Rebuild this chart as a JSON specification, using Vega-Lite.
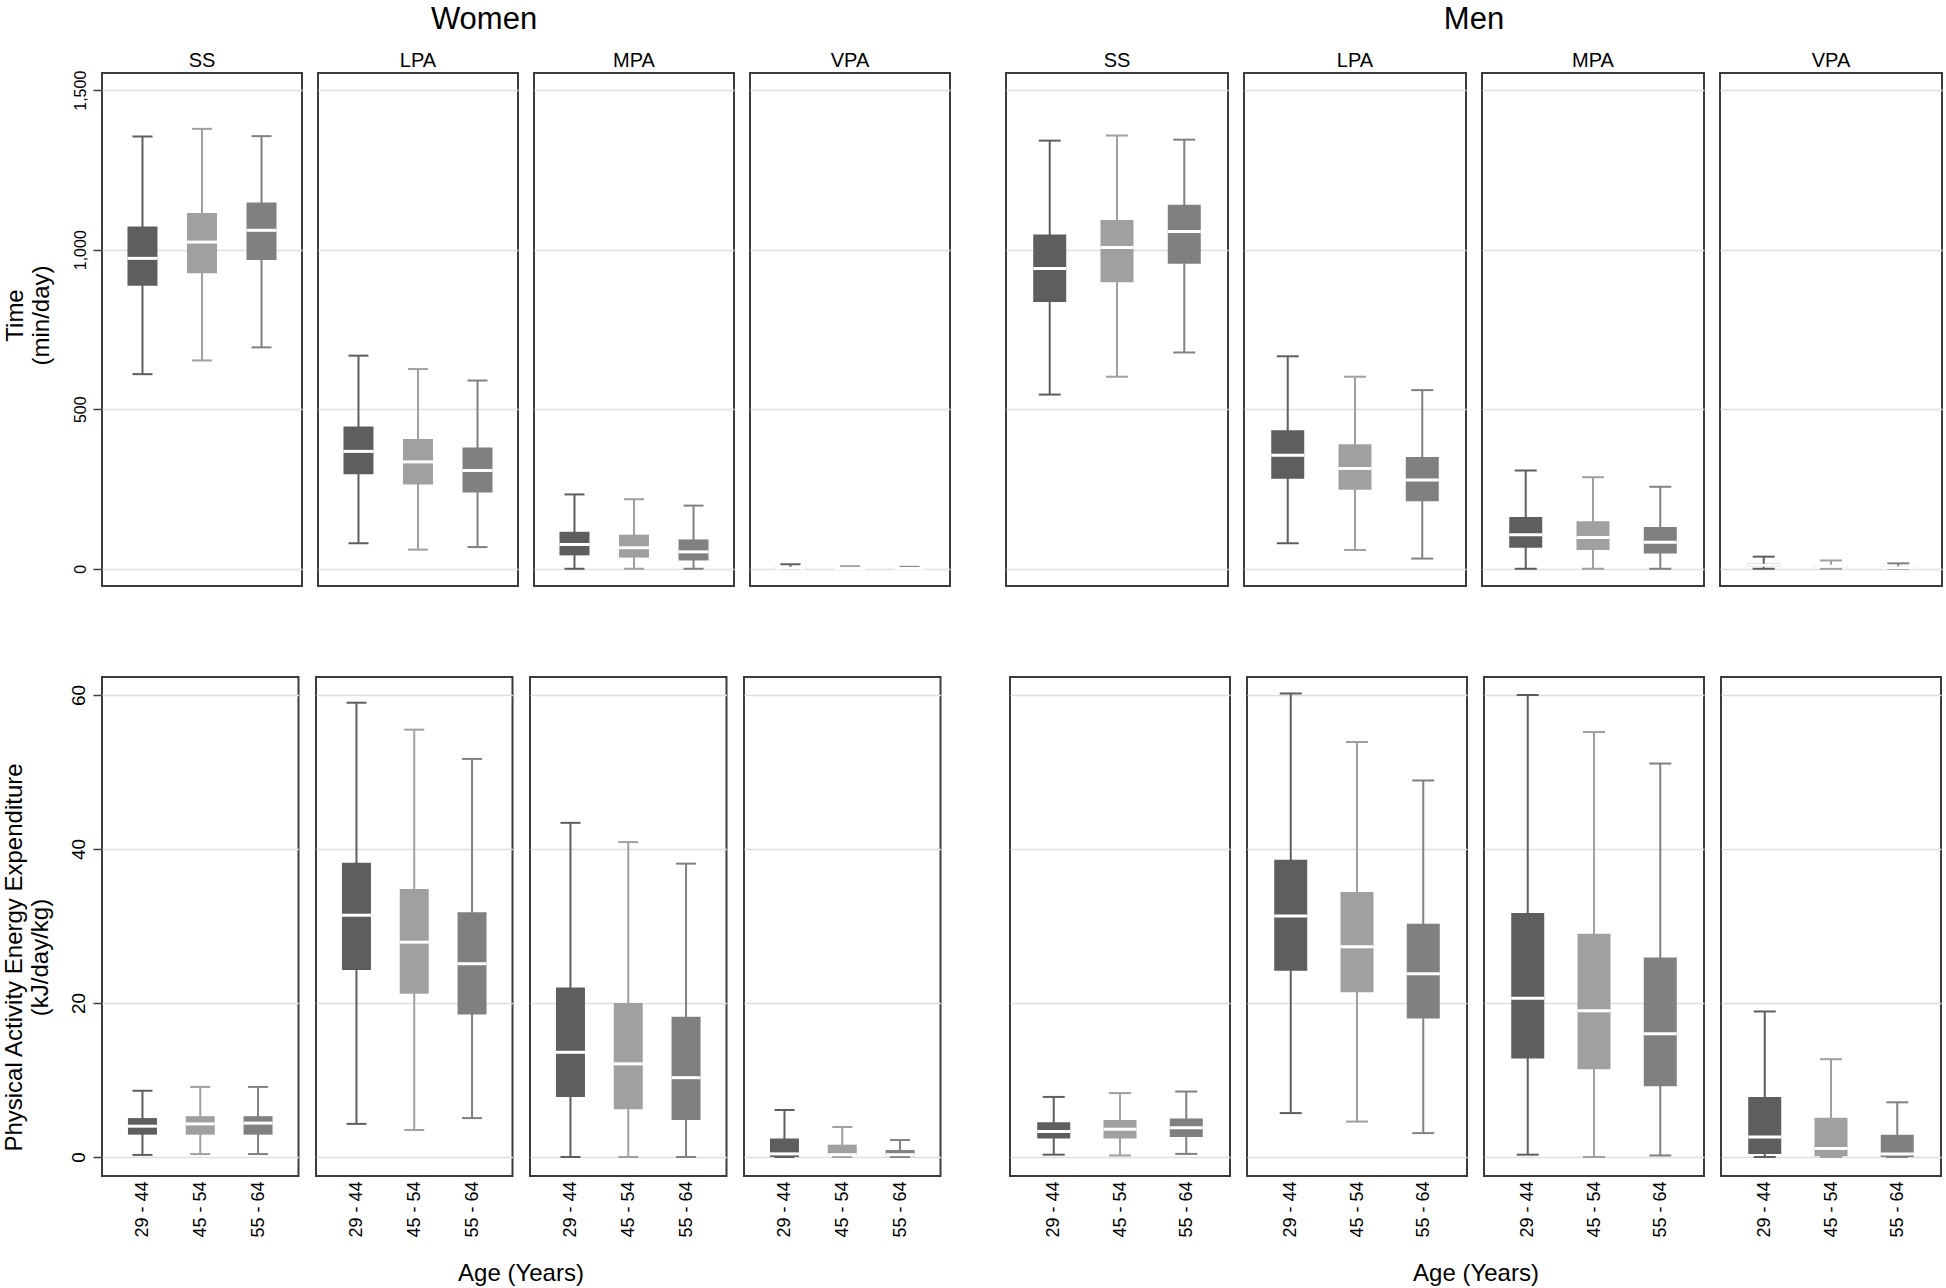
{
  "$schema": "https://vega.github.io/schema/vega-lite/v6.json",
  "padding": {"left": 2, "top": 4, "right": 0, "bottom": 0},
  "background": "white",
  "data": {"values": [
    {"sex":"Women","m":"Time","act":"SS","age":"29 - 44","lo":610,"q1":887,"med":973,"q3":1073,"hi":1355},
    {"sex":"Women","m":"Time","act":"SS","age":"45 - 54","lo":653,"q1":926,"med":1024,"q3":1115,"hi":1379},
    {"sex":"Women","m":"Time","act":"SS","age":"55 - 64","lo":694,"q1":968,"med":1061,"q3":1148,"hi":1356},
    {"sex":"Women","m":"Time","act":"LPA","age":"29 - 44","lo":80,"q1":296,"med":368,"q3":446,"hi":668},
    {"sex":"Women","m":"Time","act":"LPA","age":"45 - 54","lo":60,"q1":264,"med":335,"q3":407,"hi":626},
    {"sex":"Women","m":"Time","act":"LPA","age":"55 - 64","lo":68,"q1":239,"med":308,"q3":380,"hi":590},
    {"sex":"Women","m":"Time","act":"MPA","age":"29 - 44","lo":0,"q1":42,"med":76,"q3":116,"hi":233},
    {"sex":"Women","m":"Time","act":"MPA","age":"45 - 54","lo":0,"q1":35,"med":66,"q3":107,"hi":218},
    {"sex":"Women","m":"Time","act":"MPA","age":"55 - 64","lo":0,"q1":26,"med":53,"q3":92,"hi":198},
    {"sex":"Women","m":"Time","act":"VPA","age":"29 - 44","lo":0,"q1":0,"med":2,"q3":5,"hi":14},
    {"sex":"Women","m":"Time","act":"VPA","age":"45 - 54","lo":0,"q1":0,"med":1,"q3":3,"hi":8},
    {"sex":"Women","m":"Time","act":"VPA","age":"55 - 64","lo":0,"q1":0,"med":1,"q3":2,"hi":6},
    {"sex":"Men","m":"Time","act":"SS","age":"29 - 44","lo":546,"q1":836,"med":941,"q3":1048,"hi":1342},
    {"sex":"Men","m":"Time","act":"SS","age":"45 - 54","lo":602,"q1":898,"med":1007,"q3":1093,"hi":1358},
    {"sex":"Men","m":"Time","act":"SS","age":"55 - 64","lo":678,"q1":956,"med":1057,"q3":1141,"hi":1345},
    {"sex":"Men","m":"Time","act":"LPA","age":"29 - 44","lo":80,"q1":282,"med":356,"q3":434,"hi":666},
    {"sex":"Men","m":"Time","act":"LPA","age":"45 - 54","lo":59,"q1":248,"med":314,"q3":390,"hi":602},
    {"sex":"Men","m":"Time","act":"LPA","age":"55 - 64","lo":32,"q1":212,"med":278,"q3":350,"hi":560},
    {"sex":"Men","m":"Time","act":"MPA","age":"29 - 44","lo":0,"q1":66,"med":107,"q3":162,"hi":308},
    {"sex":"Men","m":"Time","act":"MPA","age":"45 - 54","lo":0,"q1":59,"med":98,"q3":149,"hi":287},
    {"sex":"Men","m":"Time","act":"MPA","age":"55 - 64","lo":0,"q1":48,"med":83,"q3":131,"hi":257},
    {"sex":"Men","m":"Time","act":"VPA","age":"29 - 44","lo":0,"q1":7,"med":11,"q3":16,"hi":38},
    {"sex":"Men","m":"Time","act":"VPA","age":"45 - 54","lo":0,"q1":5,"med":8,"q3":11,"hi":26},
    {"sex":"Men","m":"Time","act":"VPA","age":"55 - 64","lo":0,"q1":1,"med":3,"q3":6,"hi":17},
    {"sex":"Women","m":"PAEE","act":"SS","age":"29 - 44","lo":0.27,"q1":2.9,"med":4.0,"q3":5.05,"hi":8.6},
    {"sex":"Women","m":"PAEE","act":"SS","age":"45 - 54","lo":0.38,"q1":2.9,"med":4.3,"q3":5.3,"hi":9.1},
    {"sex":"Women","m":"PAEE","act":"SS","age":"55 - 64","lo":0.38,"q1":2.9,"med":4.4,"q3":5.3,"hi":9.1},
    {"sex":"Women","m":"PAEE","act":"LPA","age":"29 - 44","lo":4.3,"q1":24.3,"med":31.4,"q3":38.2,"hi":59.0},
    {"sex":"Women","m":"PAEE","act":"LPA","age":"45 - 54","lo":3.5,"q1":21.2,"med":27.9,"q3":34.8,"hi":55.5},
    {"sex":"Women","m":"PAEE","act":"LPA","age":"55 - 64","lo":5.05,"q1":18.5,"med":25.1,"q3":31.8,"hi":51.7},
    {"sex":"Women","m":"PAEE","act":"MPA","age":"29 - 44","lo":0,"q1":7.8,"med":13.6,"q3":22.0,"hi":43.4},
    {"sex":"Women","m":"PAEE","act":"MPA","age":"45 - 54","lo":0,"q1":6.2,"med":12.1,"q3":20.0,"hi":40.9},
    {"sex":"Women","m":"PAEE","act":"MPA","age":"55 - 64","lo":0,"q1":4.8,"med":10.3,"q3":18.2,"hi":38.1},
    {"sex":"Women","m":"PAEE","act":"VPA","age":"29 - 44","lo":0,"q1":0,"med":0.4,"q3":2.4,"hi":6.1},
    {"sex":"Women","m":"PAEE","act":"VPA","age":"45 - 54","lo":0,"q1":0.2,"med":0.3,"q3":1.6,"hi":3.9},
    {"sex":"Women","m":"PAEE","act":"VPA","age":"55 - 64","lo":0,"q1":0.1,"med":0.3,"q3":0.9,"hi":2.2},
    {"sex":"Men","m":"PAEE","act":"SS","age":"29 - 44","lo":0.3,"q1":2.4,"med":3.3,"q3":4.5,"hi":7.8},
    {"sex":"Men","m":"PAEE","act":"SS","age":"45 - 54","lo":0.2,"q1":2.4,"med":3.6,"q3":4.8,"hi":8.3},
    {"sex":"Men","m":"PAEE","act":"SS","age":"55 - 64","lo":0.4,"q1":2.6,"med":3.8,"q3":5.0,"hi":8.5},
    {"sex":"Men","m":"PAEE","act":"LPA","age":"29 - 44","lo":5.7,"q1":24.2,"med":31.3,"q3":38.6,"hi":60.2},
    {"sex":"Men","m":"PAEE","act":"LPA","age":"45 - 54","lo":4.6,"q1":21.4,"med":27.3,"q3":34.4,"hi":53.9},
    {"sex":"Men","m":"PAEE","act":"LPA","age":"55 - 64","lo":3.1,"q1":18.0,"med":23.8,"q3":30.3,"hi":48.9},
    {"sex":"Men","m":"PAEE","act":"MPA","age":"29 - 44","lo":0.3,"q1":12.8,"med":20.6,"q3":31.7,"hi":60.0},
    {"sex":"Men","m":"PAEE","act":"MPA","age":"45 - 54","lo":0,"q1":11.4,"med":19.0,"q3":29.0,"hi":55.2},
    {"sex":"Men","m":"PAEE","act":"MPA","age":"55 - 64","lo":0.2,"q1":9.2,"med":16.0,"q3":25.9,"hi":51.1},
    {"sex":"Men","m":"PAEE","act":"VPA","age":"29 - 44","lo":0,"q1":0.4,"med":2.6,"q3":7.8,"hi":18.9},
    {"sex":"Men","m":"PAEE","act":"VPA","age":"45 - 54","lo":0,"q1":0.1,"med":1.1,"q3":5.1,"hi":12.7},
    {"sex":"Men","m":"PAEE","act":"VPA","age":"55 - 64","lo":0,"q1":0,"med":0.4,"q3":2.9,"hi":7.1}
  ]},
  "config": {
    "font": "Liberation Sans",
    "view": {"stroke": "#3c3c3c", "strokeWidth": 2},
    "axis": {"gridColor": "#dedede", "gridWidth": 1.5, "labelColor": "black", "titleColor": "black", "tickColor": "#3c3c3c", "tickWidth": 1.5, "domain": false, "titleFontWeight": "normal"},
    "header": {"labelFontSize": 20, "labelColor": "black", "titleFontWeight": "normal", "titleColor": "black"},
    "title": {"fontWeight": "normal", "fontSize": 31, "color": "black"}
  },
  "spacing": 89,
  "vconcat": [
    {
      "spacing": 54,
      "hconcat": [
        {
          "title": {"text": "Women", "anchor": "middle", "offset": 15, "dx": 7},
          "transform": [{"filter": "datum.sex === 'Women' && datum.m === 'Time'"}],
          "facet": {"column": {"field": "act", "type": "nominal", "sort": ["SS", "LPA", "MPA", "VPA"], "header": {"title": null, "labelFontSize": 20, "labelPadding": 1}}},
          "spacing": 14,
          "spec": {
            "width": 200, "height": 513,
            "encoding": {"x": {"field": "age", "type": "nominal", "scale": {"type": "point", "padding": 0.68}, "axis": null}},
            "layer": [
              {"mark": {"type": "rule", "strokeWidth": 2},
               "encoding": {"y": {"field": "lo", "type": "quantitative", "scale": {"domain": [-54, 1554], "nice": false, "zero": false},
                 "axis": {"title": ["Time", "(min/day)"], "values": [0, 500, 1000, 1500], "format": ",.0f", "labelAngle": 270, "labelFontSize": 16, "labelPadding": 5, "tickSize": 8, "grid": true, "titleFontSize": 24, "titleLineHeight": 26, "titlePadding": 19, "titleY": 242}},
                 "y2": {"field": "hi"},
                 "color": {"field": "age", "type": "nominal", "scale": {"domain": ["29 - 44", "45 - 54", "55 - 64"], "range": ["#5e5e5e", "#a0a0a0", "#808080"]}, "legend": null}}},
              {"mark": {"type": "tick", "size": 20, "thickness": 2, "opacity": 1},
               "encoding": {"y": {"field": "lo", "type": "quantitative",
                 "axis": {"title": ["Time", "(min/day)"], "values": [0, 500, 1000, 1500], "format": ",.0f", "labelAngle": 270, "labelFontSize": 16, "labelPadding": 5, "tickSize": 8, "grid": true, "titleFontSize": 24, "titleLineHeight": 26, "titlePadding": 19, "titleY": 242}},
                 "color": {"field": "age", "type": "nominal", "legend": null}}},
              {"mark": {"type": "tick", "size": 20, "thickness": 2, "opacity": 1},
               "encoding": {"y": {"field": "hi", "type": "quantitative",
                 "axis": {"title": ["Time", "(min/day)"], "values": [0, 500, 1000, 1500], "format": ",.0f", "labelAngle": 270, "labelFontSize": 16, "labelPadding": 5, "tickSize": 8, "grid": true, "titleFontSize": 24, "titleLineHeight": 26, "titlePadding": 19, "titleY": 242}},
                 "color": {"field": "age", "type": "nominal", "legend": null}}},
              {"mark": {"type": "bar", "width": 30},
               "encoding": {"y": {"field": "q1", "type": "quantitative",
                 "axis": {"title": ["Time", "(min/day)"], "values": [0, 500, 1000, 1500], "format": ",.0f", "labelAngle": 270, "labelFontSize": 16, "labelPadding": 5, "tickSize": 8, "grid": true, "titleFontSize": 24, "titleLineHeight": 26, "titlePadding": 19, "titleY": 242}},
                 "y2": {"field": "q3"}, "color": {"field": "age", "type": "nominal", "legend": null}}},
              {"mark": {"type": "tick", "size": 30, "thickness": 3, "color": "white", "opacity": 1},
               "encoding": {"y": {"field": "med", "type": "quantitative",
                 "axis": {"title": ["Time", "(min/day)"], "values": [0, 500, 1000, 1500], "format": ",.0f", "labelAngle": 270, "labelFontSize": 16, "labelPadding": 5, "tickSize": 8, "grid": true, "titleFontSize": 24, "titleLineHeight": 26, "titlePadding": 19, "titleY": 242}}}}
            ]
          }
        },
        {
          "title": {"text": "Men", "anchor": "middle", "offset": 15},
          "transform": [{"filter": "datum.sex === 'Men' && datum.m === 'Time'"}],
          "facet": {"column": {"field": "act", "type": "nominal", "sort": ["SS", "LPA", "MPA", "VPA"], "header": {"title": null, "labelFontSize": 20, "labelPadding": 1}}},
          "spacing": 14,
          "spec": {
            "width": 222, "height": 513,
            "encoding": {"x": {"field": "age", "type": "nominal", "scale": {"type": "point", "padding": 0.65}, "axis": null}},
            "layer": [
              {"mark": {"type": "rule", "strokeWidth": 2},
               "encoding": {"y": {"field": "lo", "type": "quantitative", "scale": {"domain": [-54, 1554], "nice": false, "zero": false},
                 "axis": {"title": null, "values": [0, 500, 1000, 1500], "labels": false, "ticks": false, "grid": true}},
                 "y2": {"field": "hi"},
                 "color": {"field": "age", "type": "nominal", "scale": {"domain": ["29 - 44", "45 - 54", "55 - 64"], "range": ["#5e5e5e", "#a0a0a0", "#808080"]}, "legend": null}}},
              {"mark": {"type": "tick", "size": 22, "thickness": 2, "opacity": 1},
               "encoding": {"y": {"field": "lo", "type": "quantitative", "axis": {"title": null, "values": [0, 500, 1000, 1500], "labels": false, "ticks": false, "grid": true}}, "color": {"field": "age", "type": "nominal", "legend": null}}},
              {"mark": {"type": "tick", "size": 22, "thickness": 2, "opacity": 1},
               "encoding": {"y": {"field": "hi", "type": "quantitative", "axis": {"title": null, "values": [0, 500, 1000, 1500], "labels": false, "ticks": false, "grid": true}}, "color": {"field": "age", "type": "nominal", "legend": null}}},
              {"mark": {"type": "bar", "width": 33},
               "encoding": {"y": {"field": "q1", "type": "quantitative", "axis": {"title": null, "values": [0, 500, 1000, 1500], "labels": false, "ticks": false, "grid": true}}, "y2": {"field": "q3"}, "color": {"field": "age", "type": "nominal", "legend": null}}},
              {"mark": {"type": "tick", "size": 33, "thickness": 3, "color": "white", "opacity": 1},
               "encoding": {"y": {"field": "med", "type": "quantitative", "axis": {"title": null, "values": [0, 500, 1000, 1500], "labels": false, "ticks": false, "grid": true}}}}
            ]
          }
        }
      ]
    },
    {
      "spacing": 67,
      "hconcat": [
        {
          "transform": [{"filter": "datum.sex === 'Women' && datum.m === 'PAEE'"}],
          "facet": {"column": {"field": "act", "type": "nominal", "sort": ["SS", "LPA", "MPA", "VPA"], "header": {"title": "Age (Years)", "titleOrient": "bottom", "titleFontSize": 24, "titlePadding": 14, "labels": false}}},
          "spacing": 15,
          "spec": {
            "width": 196.5, "height": 499,
            "encoding": {"x": {"field": "age", "type": "nominal", "scale": {"type": "point", "padding": 0.7}, "axis": {"title": null, "labelAngle": 270, "labelFontSize": 18, "ticks": false, "tickSize": 0, "labelPadding": 4}}},
            "layer": [
              {"mark": {"type": "rule", "strokeWidth": 2},
               "encoding": {"y": {"field": "lo", "type": "quantitative", "scale": {"domain": [-2.47, 62.34], "nice": false, "zero": false},
                 "axis": {"title": ["Physical Activity Energy Expenditure", "(kJ/day/kg)"], "values": [0, 20, 40, 60], "labelAngle": 270, "labelFontSize": 19, "labelPadding": 5, "tickSize": 8, "grid": true, "titleFontSize": 24, "titleLineHeight": 26, "titlePadding": 17, "titleY": 280}},
                 "y2": {"field": "hi"},
                 "color": {"field": "age", "type": "nominal", "scale": {"domain": ["29 - 44", "45 - 54", "55 - 64"], "range": ["#5e5e5e", "#a0a0a0", "#808080"]}, "legend": null}}},
              {"mark": {"type": "tick", "size": 20, "thickness": 2, "opacity": 1},
               "encoding": {"y": {"field": "lo", "type": "quantitative",
                 "axis": {"title": ["Physical Activity Energy Expenditure", "(kJ/day/kg)"], "values": [0, 20, 40, 60], "labelAngle": 270, "labelFontSize": 19, "labelPadding": 5, "tickSize": 8, "grid": true, "titleFontSize": 24, "titleLineHeight": 26, "titlePadding": 17, "titleY": 280}},
                 "color": {"field": "age", "type": "nominal", "legend": null}}},
              {"mark": {"type": "tick", "size": 20, "thickness": 2, "opacity": 1},
               "encoding": {"y": {"field": "hi", "type": "quantitative",
                 "axis": {"title": ["Physical Activity Energy Expenditure", "(kJ/day/kg)"], "values": [0, 20, 40, 60], "labelAngle": 270, "labelFontSize": 19, "labelPadding": 5, "tickSize": 8, "grid": true, "titleFontSize": 24, "titleLineHeight": 26, "titlePadding": 17, "titleY": 280}},
                 "color": {"field": "age", "type": "nominal", "legend": null}}},
              {"mark": {"type": "bar", "width": 29},
               "encoding": {"y": {"field": "q1", "type": "quantitative",
                 "axis": {"title": ["Physical Activity Energy Expenditure", "(kJ/day/kg)"], "values": [0, 20, 40, 60], "labelAngle": 270, "labelFontSize": 19, "labelPadding": 5, "tickSize": 8, "grid": true, "titleFontSize": 24, "titleLineHeight": 26, "titlePadding": 17, "titleY": 280}},
                 "y2": {"field": "q3"}, "color": {"field": "age", "type": "nominal", "legend": null}}},
              {"mark": {"type": "tick", "size": 29, "thickness": 3, "color": "white", "opacity": 1},
               "encoding": {"y": {"field": "med", "type": "quantitative",
                 "axis": {"title": ["Physical Activity Energy Expenditure", "(kJ/day/kg)"], "values": [0, 20, 40, 60], "labelAngle": 270, "labelFontSize": 19, "labelPadding": 5, "tickSize": 8, "grid": true, "titleFontSize": 24, "titleLineHeight": 26, "titlePadding": 17, "titleY": 280}}}}
            ]
          }
        },
        {
          "transform": [{"filter": "datum.sex === 'Men' && datum.m === 'PAEE'"}],
          "facet": {"column": {"field": "act", "type": "nominal", "sort": ["SS", "LPA", "MPA", "VPA"], "header": {"title": "Age (Years)", "titleOrient": "bottom", "titleFontSize": 24, "titlePadding": 14, "labels": false}}},
          "spacing": 15,
          "spec": {
            "width": 220, "height": 499,
            "encoding": {"x": {"field": "age", "type": "nominal", "scale": {"type": "point", "padding": 0.66}, "axis": {"title": null, "labelAngle": 270, "labelFontSize": 18, "ticks": false, "tickSize": 0, "labelPadding": 4}}},
            "layer": [
              {"mark": {"type": "rule", "strokeWidth": 2},
               "encoding": {"y": {"field": "lo", "type": "quantitative", "scale": {"domain": [-2.47, 62.34], "nice": false, "zero": false},
                 "axis": {"title": null, "values": [0, 20, 40, 60], "labels": false, "ticks": false, "grid": true}},
                 "y2": {"field": "hi"},
                 "color": {"field": "age", "type": "nominal", "scale": {"domain": ["29 - 44", "45 - 54", "55 - 64"], "range": ["#5e5e5e", "#a0a0a0", "#808080"]}, "legend": null}}},
              {"mark": {"type": "tick", "size": 22, "thickness": 2, "opacity": 1},
               "encoding": {"y": {"field": "lo", "type": "quantitative", "axis": {"title": null, "values": [0, 20, 40, 60], "labels": false, "ticks": false, "grid": true}}, "color": {"field": "age", "type": "nominal", "legend": null}}},
              {"mark": {"type": "tick", "size": 22, "thickness": 2, "opacity": 1},
               "encoding": {"y": {"field": "hi", "type": "quantitative", "axis": {"title": null, "values": [0, 20, 40, 60], "labels": false, "ticks": false, "grid": true}}, "color": {"field": "age", "type": "nominal", "legend": null}}},
              {"mark": {"type": "bar", "width": 33},
               "encoding": {"y": {"field": "q1", "type": "quantitative", "axis": {"title": null, "values": [0, 20, 40, 60], "labels": false, "ticks": false, "grid": true}}, "y2": {"field": "q3"}, "color": {"field": "age", "type": "nominal", "legend": null}}},
              {"mark": {"type": "tick", "size": 33, "thickness": 3, "color": "white", "opacity": 1},
               "encoding": {"y": {"field": "med", "type": "quantitative", "axis": {"title": null, "values": [0, 20, 40, 60], "labels": false, "ticks": false, "grid": true}}}}
            ]
          }
        }
      ]
    }
  ]
}
